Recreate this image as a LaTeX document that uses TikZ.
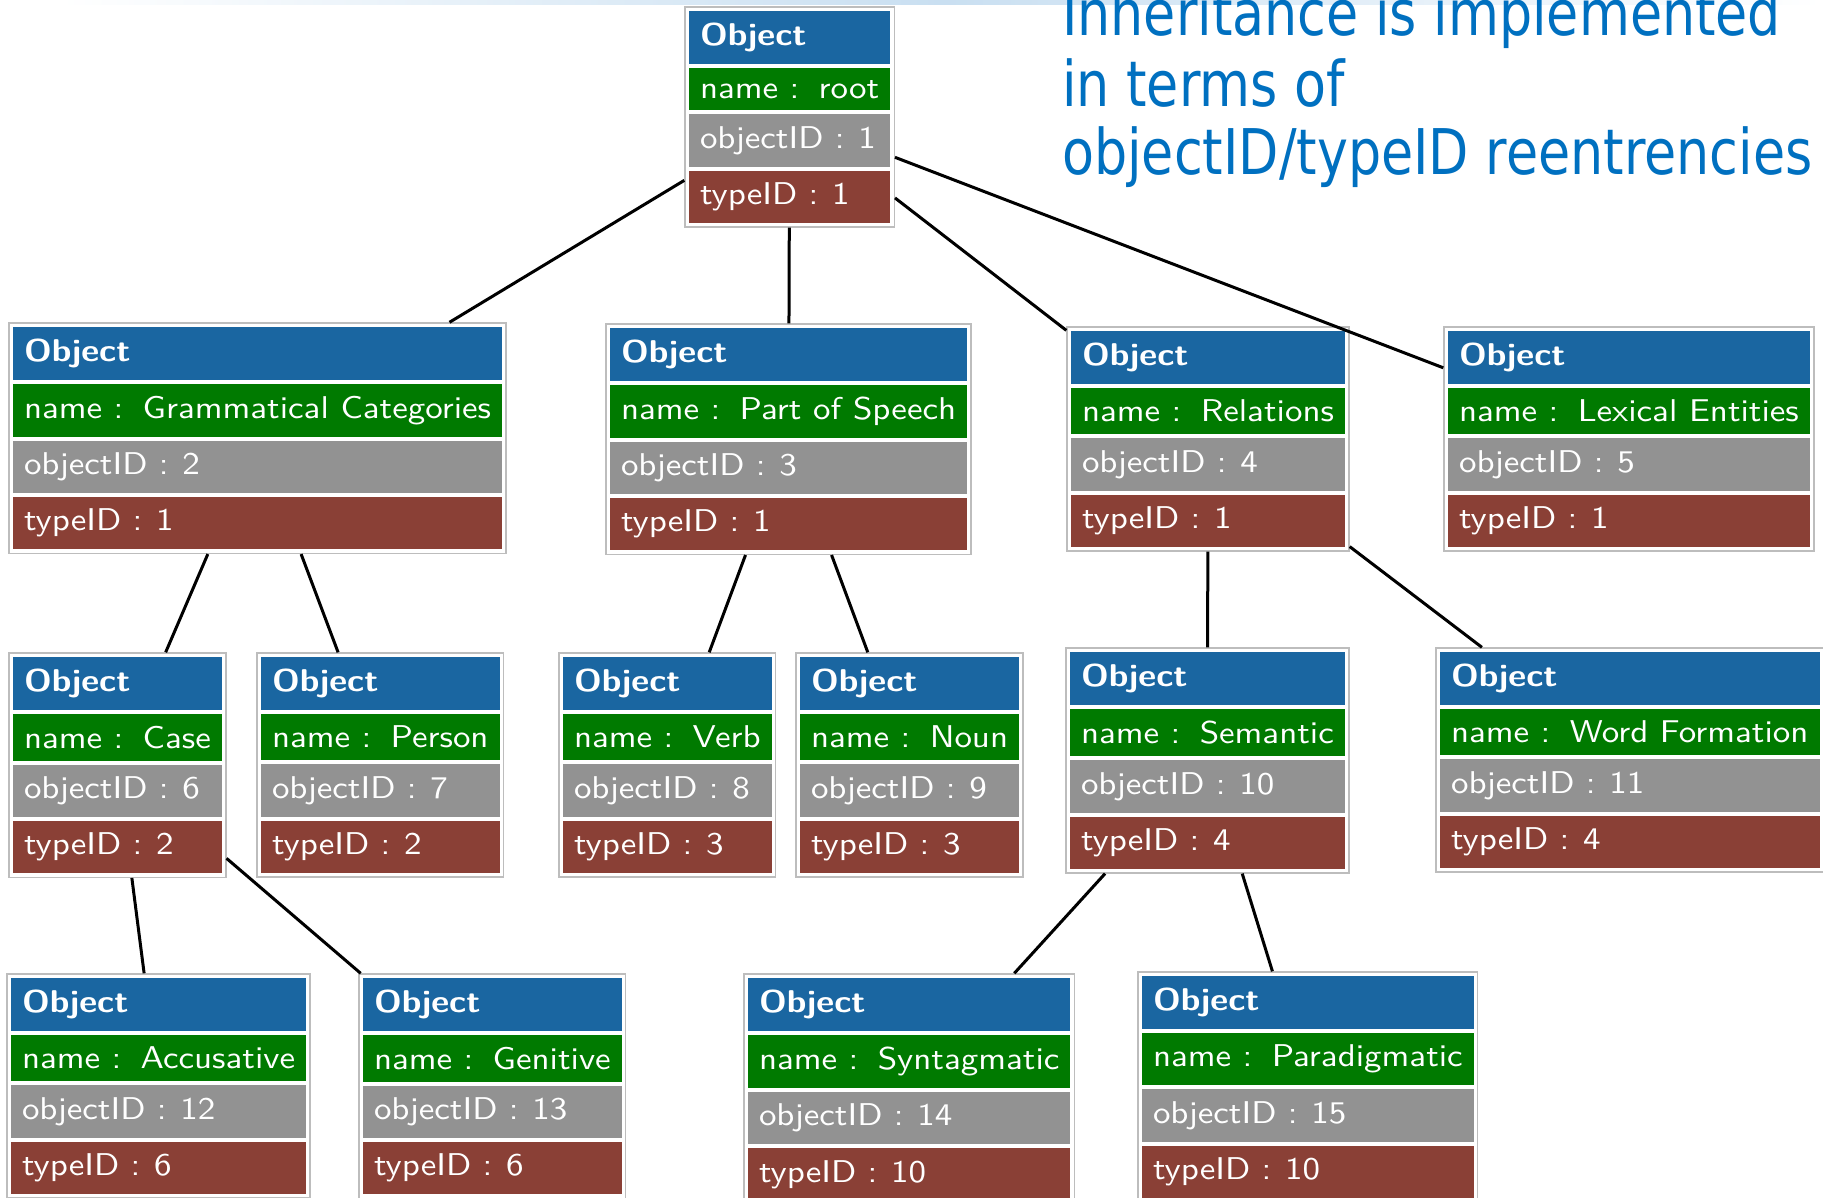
\documentclass[tikz,border=0pt]{standalone}
\usepackage{fontspec}
\usetikzlibrary{shapes.multipart,fit}
\newfontfamily\titlefont[FakeStretch=0.83]{DejaVu Sans}
\newfontfamily\boxfont{lmsans10-regular}[Extension=.otf,
  BoldFont=lmsans10-bold, FakeStretch=1.11]

\definecolor{hblue}{HTML}{1A66A1}
\definecolor{hgreen}{HTML}{007A00}
\definecolor{hgray}{HTML}{929292}
\definecolor{hred}{HTML}{8A4036}
\definecolor{framegray}{HTML}{BDBDBD}
\definecolor{titleblue}{HTML}{0070C0}
\definecolor{bandblue}{HTML}{C9DFF1}

% spacing around the colon in the attribute rows
\newcommand\clnA{\hspace{.36em}:\hspace{.62em}}
\newcommand\clnB{\hspace{.36em}:\hspace{.44em}}

\tikzset{
  objsplit/.style={rectangle split, rectangle split parts=4,
    rectangle split part fill={hblue,hgreen,hgray,hred},
    rectangle split draw splits=true,
    rectangle split part align={left},
    draw=white, line width=4pt, inner xsep=13pt, inner ysep=12pt,
    outer sep=0pt, anchor=north west, text=white,
    font=\boxfont\fontsize{31.5}{36}\selectfont},
  objframe/.style={draw=framegray, line width=1.4pt, inner sep=2pt},
  conn/.style={draw=black, line width=3pt},
  titletext/.style={anchor=base west, text=titleblue, inner sep=0pt,
    font=\titlefont\fontsize{63}{72}\selectfont},
}

% #1 id, #2 x, #3 y (top-left of the frame), #4 name, #5 objectID, #6 typeID
\newcommand\objbox[6]{%
  \node[objsplit] (#1-in) at (#2+2,#3+2)
    {\bfseries Object
     \nodepart{two} name\clnA #4
     \nodepart{three} objectID\clnB #5
     \nodepart{four} typeID\clnB #6};
  \node[objframe, fit=(#1-in)] (#1) {};
}

\begin{document}
\begin{tikzpicture}[x=1pt,y=-1pt]
  \useasboundingbox (0,0) rectangle (1823,1197);
  \clip (0,0) rectangle (1823,1197);
  \fill[white] (0,0) rectangle (1823,1197);
  \shade[left color=white, right color=white, middle color=bandblue]
    (60,0) rectangle (1823,4.5);

  % title
  \node[titletext] (t1) at (1062,35) {Inheritance is implemented};
  \node[titletext] (t2) at (1062,106) {in terms of};
  \node[titletext] (t3) at (1062,174) {objectID/typeID reentrencies};

  % objects
  \objbox{root}{685}{7}{root}{1}{1}
  \objbox{gc}{9}{323}{Grammatical Categories}{2}{1}
  \objbox{pos}{606}{324}{Part of Speech}{3}{1}
  \objbox{rel}{1067}{327}{Relations}{4}{1}
  \objbox{lex}{1444}{327}{Lexical Entities}{5}{1}
  \objbox{case}{9}{653}{Case}{6}{2}
  \objbox{pers}{257}{653}{Person}{7}{2}
  \objbox{verb}{559}{653}{Verb}{8}{3}
  \objbox{noun}{796}{653}{Noun}{9}{3}
  \objbox{sem}{1066}{648}{Semantic}{10}{4}
  \objbox{wf}{1436}{648}{Word Formation}{11}{4}
  \objbox{acc}{7}{974}{Accusative}{12}{6}
  \objbox{gen}{359}{974}{Genitive}{13}{6}
  \objbox{syn}{744}{974}{Syntagmatic}{14}{10}
  \objbox{par}{1138}{972}{Paradigmatic}{15}{10}

  % inheritance links
  \draw[conn] (root) -- (gc);
  \draw[conn] (root) -- (pos);
  \draw[conn] (root) -- (rel);
  \draw[conn] (root) -- (lex);
  \draw[conn] (gc) -- (case);
  \draw[conn] (gc) -- (pers);
  \draw[conn] (pos) -- (verb);
  \draw[conn] (pos) -- (noun);
  \draw[conn] (rel) -- (sem);
  \draw[conn] (rel) -- (wf);
  \draw[conn] (case) -- (acc);
  \draw[conn] (case) -- (gen);
  \draw[conn] (sem) -- (syn);
  \draw[conn] (sem) -- (par);
\end{tikzpicture}
\end{document}
